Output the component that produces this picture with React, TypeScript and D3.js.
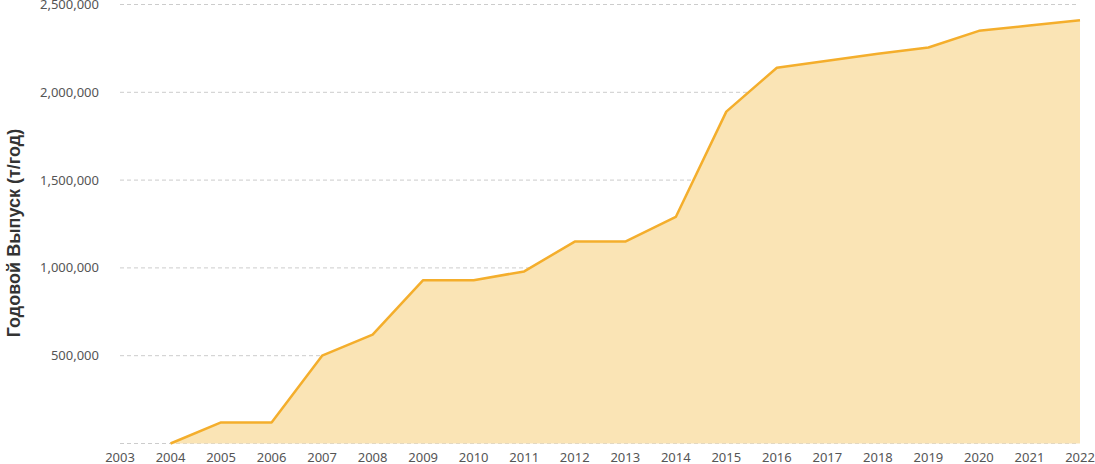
import React from 'react';
import * as d3 from 'd3';

const years = [2004, 2005, 2006, 2007, 2008, 2009, 2010, 2011, 2012, 2013, 2014, 2015, 2016, 2017, 2018, 2019, 2020, 2021, 2022];
const output = [0, 120000, 120000, 500000, 620000, 930000, 930000, 980000, 1150000, 1150000, 1290000, 1890000, 2140000, 2180000, 2220000, 2255000, 2350000, 2380000, 2410000];
const yTicks = [500000, 1000000, 1500000, 2000000, 2500000];
const xTicks = d3.range(2003, 2023);

const App = () => {
    const width = 1095;
    const height = 464;
    const margin = {top: 4.5, right: 15, bottom: 20.5, left: 120};

    const x = d3.scaleLinear().domain([2003, 2022]).range([margin.left, width - margin.right]);
    const y = d3.scaleLinear().domain([0, 2500000]).range([height - margin.bottom, margin.top]);

    const data = years.map((yr, i) => [yr, output[i]] as [number, number]);
    const area = d3.area<[number, number]>()
        .x((d) => x(d[0]))
        .y0(y(0))
        .y1((d) => y(d[1]));
    const line = d3.line<[number, number]>()
        .x((d) => x(d[0]))
        .y((d) => y(d[1]));
    const fmt = d3.format(',');

    return (
        <svg width={width} height={height} style={{position: 'absolute', left: 0, top: 0}}>
            {[0, ...yTicks].map((t) => (
                <line key={t} x1={margin.left} x2={x(2022) - 2} y1={y(t)} y2={y(t)}
                    stroke="#cccccc" strokeWidth={1} strokeDasharray="4,3" />
            ))}
            <path d={area(data) || ''} fill="#fae4b5" />
            <path d={line(data) || ''} fill="none" stroke="#f4ae2c" strokeWidth={2.5} strokeLinejoin="round" />
            {yTicks.map((t) => (
                <text key={t} x={99} y={y(t)} dy="0.35em" textAnchor="end"
                    fontFamily="Noto Sans" fontSize={13} fill="#555">{fmt(t)}</text>
            ))}
            {xTicks.map((t) => (
                <text key={t} x={x(t)} y={462} textAnchor="middle"
                    fontFamily="Noto Sans" fontSize={13} fill="#555">{t}</text>
            ))}
            <text transform={`translate(20,233) rotate(-90)`}
                textAnchor="middle" fontFamily="Liberation Sans" fontWeight="bold" fontSize={18} fill="#333">
                Годовой Выпуск (т/год)
            </text>
        </svg>
    );
};

export default App;
